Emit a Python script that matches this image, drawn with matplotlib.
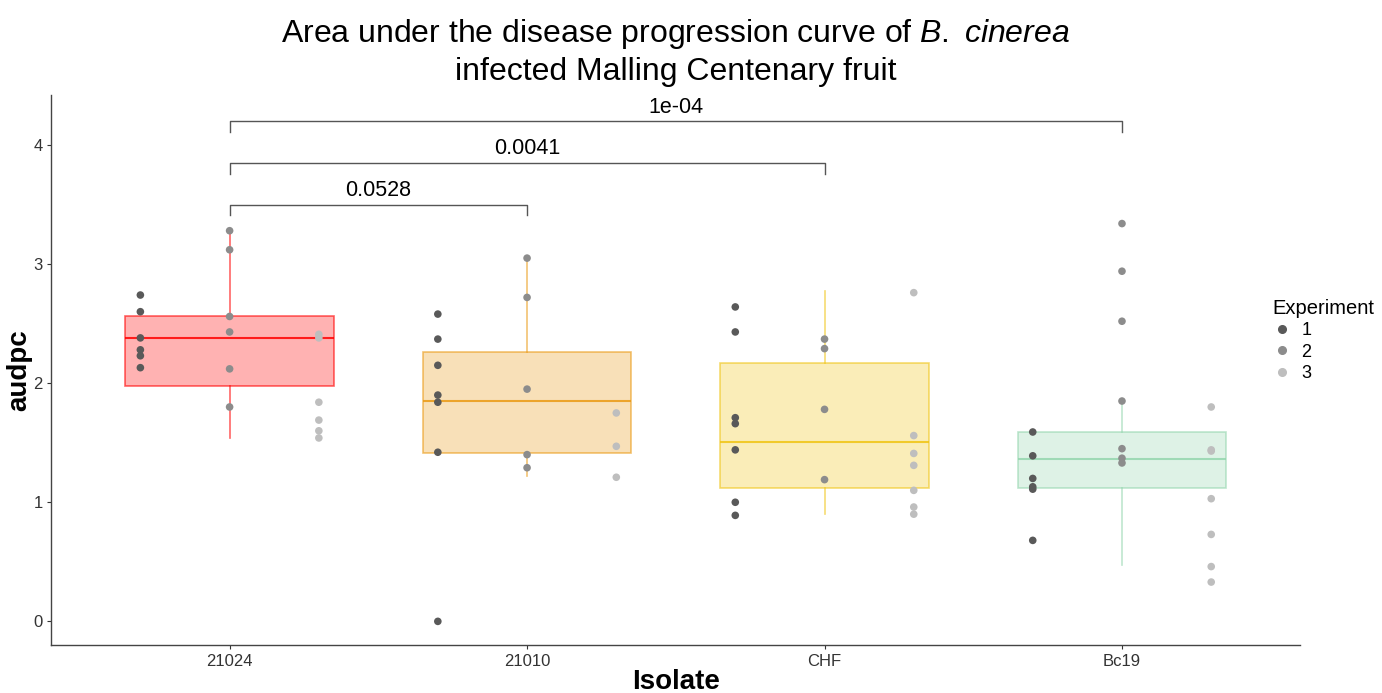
import numpy as np
import matplotlib
matplotlib.use('Agg')
import matplotlib.pyplot as plt
from matplotlib.lines import Line2D

plt.rcParams['font.family'] = ['Liberation Sans', 'DejaVu Sans']
plt.rcParams['mathtext.fontset'] = 'custom'
plt.rcParams['mathtext.it'] = 'Liberation Sans:italic'
plt.rcParams['mathtext.rm'] = 'Liberation Sans'

isolates = ['21024', '21010', 'CHF', 'Bc19']
experiments = ['1', '2', '3']

# audpc values per isolate, per experiment
exp1 = [[2.74, 2.60, 2.38, 2.28, 2.23, 2.13],
        [2.58, 2.37, 2.15, 1.90, 1.84, 1.42, 0.0],
        [2.64, 2.43, 1.71, 1.66, 1.44, 1.00, 0.89],
        [1.59, 1.39, 1.20, 1.13, 1.11, 0.68]]
exp2 = [[3.28, 3.12, 2.56, 2.43, 2.12, 1.80],
        [3.05, 2.72, 1.95, 1.40, 1.29],
        [2.37, 2.29, 1.78, 1.19],
        [3.34, 2.94, 2.52, 1.85, 1.45, 1.37, 1.33]]
exp3 = [[2.41, 2.38, 1.84, 1.69, 1.60, 1.54],
        [1.75, 1.47, 1.21],
        [2.76, 1.56, 1.41, 1.31, 1.10, 0.96, 0.90],
        [1.80, 1.44, 1.43, 1.03, 0.73, 0.46, 0.33]]

# box summaries
q1 = [1.98, 1.41, 1.12, 1.12]
med = [2.38, 1.85, 1.51, 1.36]
q3 = [2.56, 2.26, 2.17, 1.59]
whis_lo = [1.54, 1.22, 0.90, 0.47]
whis_hi = [3.28, 3.05, 2.77, 1.85]

box_colors = ['#FF0000', '#EB9A14', '#F0C414', '#94D6AE']
point_colors = ['#595959', '#8C8C8C', '#BEBEBE']

# significance brackets (from, to, height, label)
comp_to = [1, 2, 3]
comp_y = [3.5, 3.85, 4.2]
comp_p = ['0.0528', '0.0041', '1e-04']

fig = plt.figure(figsize=(13.82, 6.93), dpi=100)
ax = fig.add_axes([0.037, 0.069, 0.904, 0.794])

pos = np.arange(len(isolates))
stats = []
for i in range(len(isolates)):
    stats.append({'q1': q1[i], 'med': med[i], 'q3': q3[i],
                  'whislo': whis_lo[i], 'whishi': whis_hi[i], 'fliers': []})

for i in range(len(isolates)):
    c = box_colors[i]
    ax.bxp([stats[i]], positions=[pos[i]], widths=0.7, patch_artist=True,
           showcaps=False, showfliers=False,
           boxprops=dict(facecolor=matplotlib.colors.to_rgba(c, 0.3),
                         edgecolor=matplotlib.colors.to_rgba(c, 0.6), linewidth=1.2),
           whiskerprops=dict(color=matplotlib.colors.to_rgba(c, 0.6), linewidth=1.2),
           medianprops=dict(color=matplotlib.colors.to_rgba(c, 0.85), linewidth=1.5))

offsets = [-0.3, 0.0, 0.3]
for k, data in enumerate([exp1, exp2, exp3]):
    for i in range(len(isolates)):
        vals = data[i]
        ax.scatter(np.full(len(vals), pos[i] + offsets[k]), vals, s=30,
                   color=point_colors[k], edgecolors='none', zorder=3)

for j in range(len(comp_to)):
    x1, x2, y = 0, comp_to[j], comp_y[j]
    ax.plot([x1, x1, x2, x2], [y - 0.09, y, y, y - 0.09], color='#555555', lw=1.0)
    ax.text((x1 + x2) / 2, y + 0.03, comp_p[j], ha='center', va='bottom', fontsize=15.5)

ax.set_xlim(-0.6, 3.6)
ax.set_ylim(-0.2, 4.42)
ax.set_xticks(pos)
ax.set_xticklabels(isolates)
ax.set_yticks([0, 1, 2, 3, 4])
ax.tick_params(labelsize=12, colors='#333333', length=3, width=0.8, pad=3)
for s in ['top', 'right']:
    ax.spines[s].set_visible(False)
for s in ['left', 'bottom']:
    ax.spines[s].set_color('#444444')
    ax.spines[s].set_linewidth(1.0)

ax.set_xlabel('Isolate', fontsize=20, fontweight='bold', labelpad=0)
ax.set_ylabel('audpc', fontsize=20, fontweight='bold', labelpad=1)
ax.set_title('Area under the disease progression curve of $B.\\ cinerea$\ninfected Malling Centenary fruit',
             fontsize=23, pad=11, linespacing=1.25)

handles = [Line2D([], [], marker='o', ls='none', color=point_colors[k], markersize=5.5)
           for k in range(3)]
fig.legend(handles, experiments, title='Experiment', loc='upper left',
           bbox_to_anchor=(1260 / 1382, 1 - 286 / 693), frameon=False,
           fontsize=13, title_fontsize=14.5, handlelength=1.0, handletextpad=0.6,
           labelspacing=0.25, borderpad=0.2, alignment='left')

fig.savefig('out.png', dpi=100)
